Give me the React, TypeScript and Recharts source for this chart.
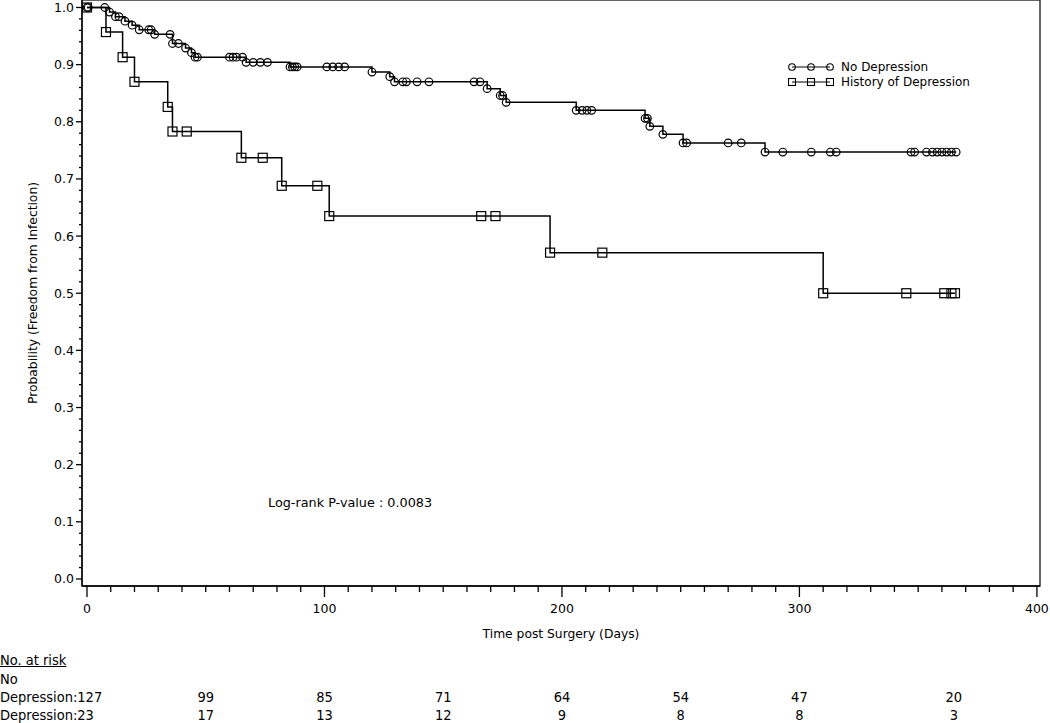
import React from "react";
import { LineChart, Line, XAxis, YAxis, ReferenceArea } from "recharts";

// Kaplan-Meier estimates (days, survival); flat points are censored patients
const noDepTime = [
    0, 0.5, 7.5, 9.5, 12, 13.5, 16, 19, 22, 26, 27, 28.5, 35, 36, 38.5, 41.5, 44, 45.5, 46.5,
    60, 61.5, 63, 65.5, 67, 70, 73, 76, 85.5, 86.5, 87.5, 88.5, 101, 103.5, 106, 108.5,
    120, 127.5, 129.5, 133, 134.5, 139, 144, 163, 165.5, 168.5, 174, 175, 176.5,
    206, 208.5, 210.5, 212.5, 235, 236, 237, 242.5, 251, 252.5, 270, 275.5, 285.5,
    293, 305, 313, 315.5, 347, 348.5, 353.5, 356, 358, 360, 362, 364, 366
];
const noDepSurv = [
    1, 1, 1, 0.992, 0.984, 0.984, 0.976, 0.969, 0.961, 0.961, 0.961, 0.953, 0.953, 0.937, 0.937, 0.929, 0.921, 0.913, 0.913,
    0.913, 0.913, 0.913, 0.913, 0.904, 0.904, 0.904, 0.904, 0.896, 0.896, 0.896, 0.896, 0.896, 0.896, 0.896, 0.896,
    0.887, 0.879, 0.870, 0.870, 0.870, 0.870, 0.870, 0.870, 0.870, 0.858, 0.846, 0.846, 0.834,
    0.820, 0.820, 0.820, 0.820, 0.806, 0.806, 0.792, 0.778, 0.763, 0.763, 0.763, 0.763, 0.747,
    0.747, 0.747, 0.747, 0.747, 0.747, 0.747, 0.747, 0.747, 0.747, 0.747, 0.747, 0.747, 0.747
];
const histTime = [0, 8, 15, 20, 34, 36, 42, 65, 74, 82, 97, 102, 166, 172, 195, 217, 310, 345, 361, 364, 365.5];
const histSurv = [1, 0.957, 0.913, 0.870, 0.826, 0.783, 0.783, 0.737, 0.737, 0.688, 0.688, 0.635, 0.635, 0.635, 0.571, 0.571, 0.5, 0.5, 0.5, 0.5, 0.5];

const xTicks = [
    0, 10, 20, 30, 40, 50, 60, 70, 80, 90, 100, 110, 120, 130, 140, 150, 160, 170, 180, 190, 200,
    210, 220, 230, 240, 250, 260, 270, 280, 290, 300, 310, 320, 330, 340, 350, 360, 370, 380, 390, 400
];
const yTicks = [
    0, 0.02, 0.04, 0.06, 0.08, 0.1, 0.12, 0.14, 0.16, 0.18, 0.2, 0.22, 0.24, 0.26, 0.28, 0.3,
    0.32, 0.34, 0.36, 0.38, 0.4, 0.42, 0.44, 0.46, 0.48, 0.5, 0.52, 0.54, 0.56, 0.58, 0.6,
    0.62, 0.64, 0.66, 0.68, 0.7, 0.72, 0.74, 0.76, 0.78, 0.8, 0.82, 0.84, 0.86, 0.88, 0.9,
    0.92, 0.94, 0.96, 0.98, 1
];

// at-risk table
const riskDays = [0, 50, 100, 150, 200, 250, 300, 365];
const riskNoDep = [127, 99, 85, 71, 64, 54, 47, 20];
const riskHist = [23, 17, 13, 12, 9, 8, 8, 3];

const noDepData = noDepTime.map((t, i) => ({ t, s: noDepSurv[i] }));
const histData = histTime.map((t, i) => ({ t, s: histSurv[i] }));

const xMin = -2.1, xMax = 401.3;
const yMin = -0.0123, yMax = 1.0131;
const plotLeft = 82, plotRight = 1040;
const dayToPx = (d: number) => plotLeft + ((d - xMin) / (xMax - xMin)) * (plotRight - plotLeft);

const chartFont = "'DejaVu Sans', sans-serif";
const tableFont = "'DejaVu Sans Condensed', 'DejaVu Sans', sans-serif";

function XTick({ x, y, payload }: any) {
    const v = payload.value;
    const major = v % 100 === 0;
    return (
        <g>
            <line x1={x} x2={x} y1={y} y2={y + (major ? 11 : 6)} stroke="#000" strokeWidth={1.3} />
            {major && (
                <text x={x} y={y + 27} textAnchor="middle" fontSize={12.5} fontFamily={chartFont} fill="#000">
                    {v}
                </text>
            )}
        </g>
    );
}

function YTick({ x, y, payload }: any) {
    const v = payload.value;
    const major = Math.round(v * 50) % 5 === 0;
    return (
        <g>
            <line x1={x - (major ? 6 : 3)} x2={x} y1={y} y2={y} stroke="#000" strokeWidth={1.3} />
            {major && (
                <text x={x - 8} y={y + 4.5} textAnchor="end" fontSize={12.5} fontFamily={chartFont} fill="#000">
                    {v.toFixed(1)}
                </text>
            )}
        </g>
    );
}

const circleDot = (p: any) =>
    <circle key={`c-${p.index}`} cx={p.cx} cy={p.cy} r={3.8} fill="none" stroke="#000" strokeWidth={1.2} />;
const squareDot = (p: any) =>
    <rect key={`s-${p.index}`} x={p.cx - 4.5} y={p.cy - 4.5} width={9} height={9} fill="none" stroke="#000" strokeWidth={1.2} />;

function LegendIcon({ kind }: { kind: "circle" | "square" }) {
    const xs = [4, 23, 42];
    return (
        <svg width={46} height={12} style={{ display: "block" }}>
            <line x1={4} x2={42} y1={6} y2={6} stroke="#000" strokeWidth={1.2} />
            {xs.map((cx) =>
                kind === "circle"
                    ? <circle key={cx} cx={cx} cy={6} r={3.3} fill="none" stroke="#000" strokeWidth={1.1} />
                    : <rect key={cx} x={cx - 3.5} y={2.5} width={7} height={7} fill="none" stroke="#000" strokeWidth={1.1} />
            )}
        </svg>
    );
}

export default function App() {
    const legendRows = [
        { kind: "circle" as const, label: "No Depression", top: 60 },
        { kind: "square" as const, label: "History of Depression", top: 75 }
    ];
    const tableRow = (top: number, text: string, extra?: React.CSSProperties) => (
        <div style={{ position: "absolute", left: 0, top, fontFamily: tableFont, fontSize: 14.5, lineHeight: "18px", ...extra }}>
            {text}
        </div>
    );
    return (
        <div style={{ position: "absolute", left: 0, top: 0, width: 1050, height: 723, background: "#fff", color: "#000" }}>
            <LineChart width={1050} height={723} margin={{ top: 0, right: 10, left: 0, bottom: 0 }}>
                <XAxis
                    dataKey="t"
                    type="number"
                    domain={[xMin, xMax]}
                    allowDataOverflow
                    ticks={xTicks}
                    interval={0}
                    tick={<XTick />}
                    tickLine={false}
                    tickSize={0}
                    tickMargin={0}
                    height={137}
                    axisLine={{ stroke: "#000", strokeWidth: 1.3 }}
                    label={{
                        value: "Time post Surgery (Days)",
                        position: "insideTop",
                        offset: 43,
                        style: { fontSize: 12.3, fontFamily: chartFont, fill: "#000" }
                    }}
                />
                <YAxis
                    type="number"
                    domain={[yMin, yMax]}
                    allowDataOverflow
                    ticks={yTicks}
                    interval={0}
                    tick={<YTick />}
                    tickLine={false}
                    tickSize={0}
                    tickMargin={0}
                    width={82}
                    axisLine={{ stroke: "#000", strokeWidth: 1.3 }}
                    label={{
                        value: "Probability (Freedom from Infection)",
                        angle: -90,
                        position: "insideLeft",
                        offset: 33,
                        style: { textAnchor: "middle", fontSize: 12.3, fontFamily: chartFont, fill: "#000" }
                    }}
                />
                <ReferenceArea x1={xMin} x2={xMax} y1={yMin} y2={yMax} fill="none" stroke="#333" strokeWidth={1.5} ifOverflow="visible" />
                <Line
                    data={histData}
                    dataKey="s"
                    type="stepAfter"
                    stroke="#000"
                    strokeWidth={1.5}
                    dot={squareDot}
                    activeDot={false}
                    isAnimationActive={false}
                />
                <Line
                    data={noDepData}
                    dataKey="s"
                    type="stepAfter"
                    stroke="#000"
                    strokeWidth={1.5}
                    dot={circleDot}
                    activeDot={false}
                    isAnimationActive={false}
                />
            </LineChart>

            {legendRows.map((r) => (
                <div key={r.label} style={{ position: "absolute", left: 788, top: r.top, display: "flex", alignItems: "center", height: 14 }}>
                    <LegendIcon kind={r.kind} />
                    <span style={{ marginLeft: 7, fontFamily: chartFont, fontSize: 12, whiteSpace: "nowrap" }}>{r.label}</span>
                </div>
            ))}

            <div style={{ position: "absolute", left: 268, top: 496, fontFamily: chartFont, fontSize: 12.8, lineHeight: "14px", whiteSpace: "nowrap" }}>
                Log-rank P-value : 0.0083
            </div>

            {tableRow(651, "No. at risk", { textDecoration: "underline" })}
            {tableRow(670, "No")}
            {tableRow(688, `Depression:${riskNoDep[0]}`)}
            {tableRow(706, `Depression:${riskHist[0]}`)}
            {riskDays.slice(1).map((d, i) => (
                <React.Fragment key={d}>
                    <div style={{ position: "absolute", left: dayToPx(d) - 20, width: 40, textAlign: "center", top: 688, fontFamily: tableFont, fontSize: 14.5, lineHeight: "18px" }}>
                        {riskNoDep[i + 1]}
                    </div>
                    <div style={{ position: "absolute", left: dayToPx(d) - 20, width: 40, textAlign: "center", top: 706, fontFamily: tableFont, fontSize: 14.5, lineHeight: "18px" }}>
                        {riskHist[i + 1]}
                    </div>
                </React.Fragment>
            ))}
        </div>
    );
}
